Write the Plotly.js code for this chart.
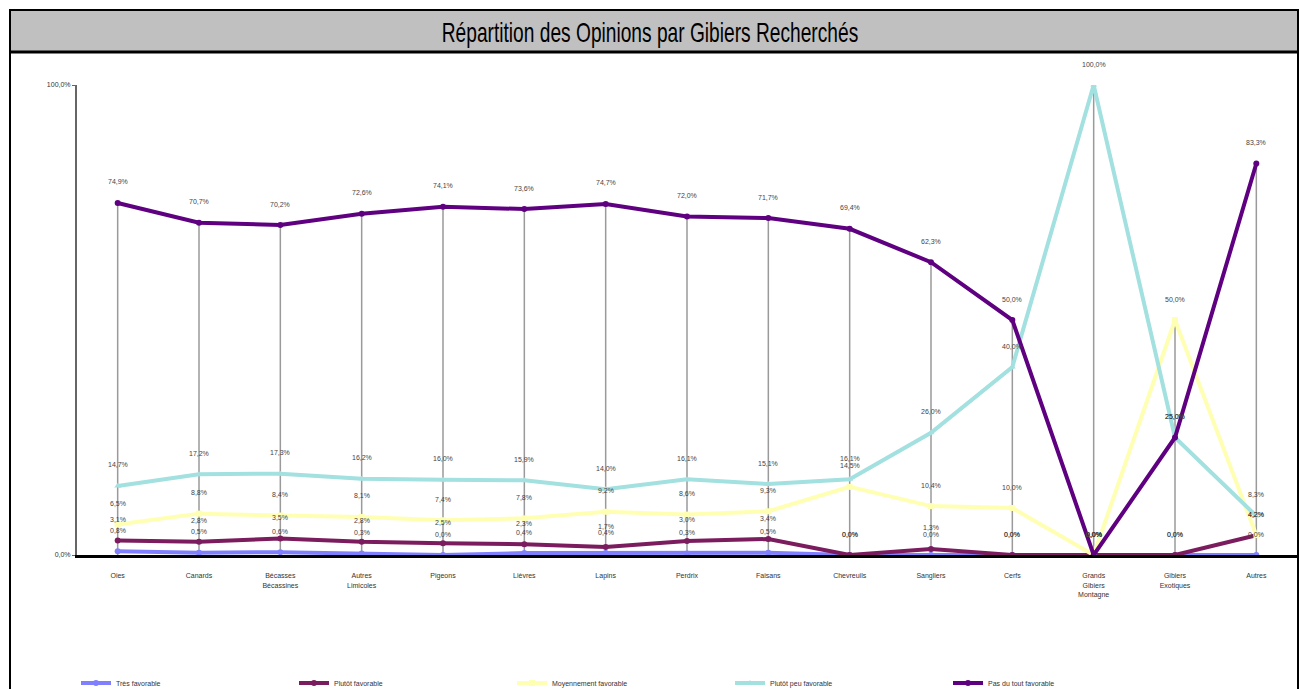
<!DOCTYPE html>
<html>
<head>
<meta charset="utf-8">
<script src="https://cdn.plot.ly/plotly-3.0.1.min.js"></script>
<style>
html,body{margin:0;padding:0;background:#fff;}
#chart{width:1300px;height:689px;}
</style>
</head>
<body>
<div id="chart"></div>
<script>
const categories = ['Oies','Canards','Bécasses<br>Bécassines','Autres<br>Limicoles','Pigeons','Lièvres','Lapins','Perdrix','Faisans','Chevreuils','Sangliers','Cerfs','Grands<br>Gibiers<br>Montagne','Gibiers<br>Exotiques','Autres'];
const seriesNames = ['Très favorable','Plutôt favorable','Moyennement favorable','Plutôt peu favorable','Pas du tout favorable'];
const tresFavorable      = [0.8,0.5,0.6,0.3,0.0,0.4,0.4,0.3,0.5,0.0,0.0,0.0,0.0,0.0,0.0];
const plutotFavorable    = [3.1,2.8,3.5,2.8,2.5,2.3,1.7,3.0,3.4,0.0,1.3,0.0,0.0,0.0,4.2];
const moyennement        = [6.5,8.8,8.4,8.1,7.4,7.8,9.2,8.6,9.3,14.5,10.4,10.0,0.0,50.0,4.2];
const plutotPeuFavorable = [14.7,17.2,17.3,16.2,16.0,15.9,14.0,16.1,15.1,16.1,26.0,40.0,100.0,25.0,8.3];
const pasDuToutFavorable = [74.9,70.7,70.2,72.6,74.1,73.6,74.7,72.0,71.7,69.4,62.3,50.0,0.0,25.0,83.3];
const yTickVals = [0,100];
const yTickText = ['0,0%','100,0%'];

const allSeries = [tresFavorable, plutotFavorable, moyennement, plutotPeuFavorable, pasDuToutFavorable];
const colors = ['#8080ff','#7b1c5e','#ffffb3','#a3e0e0','#5f0080'];
const symbols = ['circle','circle','square','triangle-up','circle'];

const W = 1300, H = 689;
const M = {l:77, r:3, t:85, b:134};
const pw = W - M.l - M.r, ph = H - M.t - M.b;
const px = x => (x - M.l)/pw;
const py = y => (H - M.b - y)/ph;
const smallFont = 'Liberation Sans Narrow, Arial Narrow, Liberation Sans, sans-serif';

const xs = categories.map((c,i)=>i);

// drop lines from 0 to the highest value of each category
const dropX = [], dropY = [];
xs.forEach(i=>{
  const mx = Math.max(...allSeries.map(s=>s[i]));
  dropX.push(i,i,null); dropY.push(0,mx,null);
});

const traces = [{
  x: dropX, y: dropY, mode:'lines', line:{color:'#9a9a9a', width:1.5},
  hoverinfo:'skip', showlegend:false
}];
allSeries.forEach((s,k)=>{
  traces.push({
    x: xs, y: s, name: seriesNames[k], mode:'lines+markers',
    line:{color:colors[k], width:4},
    marker:{color:colors[k], size:6, symbol:symbols[k]}
  });
});

const fmt = v => v.toFixed(1).replace('.', ',') + '%';
const annotations = [];
allSeries.forEach(s=>{
  s.forEach((v,i)=>{
    annotations.push({x:i, y:v, xref:'x', yref:'y', text:fmt(v), showarrow:false,
      yshift:21, font:{family:smallFont, size:7, color:'#444'}});
  });
});

const shapes = [
  {type:'rect', xref:'paper', yref:'paper', x0:px(10), x1:px(1298), y0:py(720), y1:py(10),
   line:{color:'#000', width:2}, fillcolor:'rgba(0,0,0,0)', layer:'below'},
  {type:'rect', xref:'paper', yref:'paper', x0:px(11), x1:px(1297), y0:py(52), y1:py(11),
   line:{width:0}, fillcolor:'#c0c0c0', layer:'below'},
  {type:'line', xref:'paper', yref:'paper', x0:px(11), x1:px(1297), y0:py(52), y1:py(52),
   line:{color:'#000', width:3}}
];

const layout = {
  width:W, height:H,
  margin:{l:M.l, r:M.r, t:M.t, b:M.b, autoexpand:false},
  paper_bgcolor:'#fff', plot_bgcolor:'#fff',
  title:{text:'Répartition des Opinions par Gibiers Recherchés',
    font:{family:'Liberation Sans, Arial, sans-serif', size:27, color:'#000'},
    x:0.5, xanchor:'center', xref:'container', y:1-33/H, yanchor:'middle', yref:'container'},
  xaxis:{range:[-0.5,14.5], tickvals:xs, ticktext:categories, showgrid:false, zeroline:false,
    showline:true, linecolor:'#000', linewidth:3, ticks:'', ticklabelstandoff:12,
    tickfont:{family:smallFont, size:7, color:'#333'}},
  yaxis:{range:[0,100], tickvals:yTickVals, ticktext:yTickText, showgrid:false, zeroline:false,
    showline:true, linecolor:'#666', linewidth:2, ticks:'outside', ticklen:3, tickcolor:'#666',
    tickfont:{family:smallFont, size:7, color:'#333'}},
  showlegend:true,
  legend:{orientation:'h', x:px(76), xanchor:'left', y:py(683), yanchor:'middle',
    entrywidth:173, entrywidthmode:'pixels', itemwidth:30, bgcolor:'rgba(0,0,0,0)',
    font:{family:smallFont, size:7, color:'#333'}},
  annotations: annotations,
  shapes: shapes
};

Plotly.newPlot('chart', traces, layout, {displayModeBar:false, staticPlot:true}).then(gd=>{
  // condense the title horizontally to match the narrow face of the original
  const t = gd.querySelector('.gtitle');
  if (t) {
    const cx = W/2, sx = 0.71;
    t.setAttribute('transform', `translate(${cx*(1-sx)},0) scale(${sx},1)`);
  }
});
</script>
</body>
</html>
